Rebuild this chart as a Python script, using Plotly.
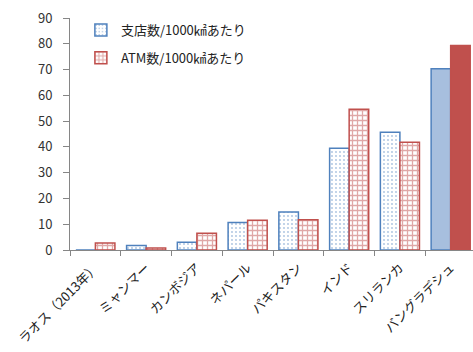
import plotly.graph_objects as go

countries = ["ラオス（2013年）", "ミャンマー", "カンボジア", "ネパール", "パキスタン",
             "インド", "スリランカ", "バングラデシュ"]
branches = [0, 1.7, 3.0, 10.7, 14.7, 39.5, 45.7, 70.3]
atms = [2.7, 0.8, 6.5, 11.5, 11.7, 54.6, 41.8, 79.3]
series_names = ["支店数/1000㎢あたり", "ATM数/1000㎢あたり"]
y_ticks = [0, 10, 20, 30, 40, 50, 60, 70, 80, 90]

BLUE = "#4F81BD"
LIGHT_BLUE = "#A7BFDE"
RED = "#C0504D"
FONT = "Noto Sans CJK JP, sans-serif"

n = len(countries)
# the last country is drawn with plain solid fills, the others with patterns
red_shape = ["+"] * (n - 1) + [""]

fig = go.Figure()
fig.add_trace(go.Bar(
    x=countries[:-1], y=branches[:-1], name=series_names[0], legend="legend",
    offsetgroup="branch",
    marker=dict(color=BLUE, line=dict(color=BLUE, width=1.5),
                pattern=dict(shape=".", size=4, solidity=0.16,
                             bgcolor="white", fgcolor=BLUE)),
))
fig.add_trace(go.Bar(
    x=countries[-1:], y=branches[-1:], name=series_names[0], showlegend=False,
    offsetgroup="branch",
    marker=dict(color=LIGHT_BLUE, line=dict(color=BLUE, width=1.5)),
))
fig.add_trace(go.Bar(
    x=countries, y=atms, name=series_names[1], legend="legend2",
    offsetgroup="atm",
    marker=dict(color=RED, line=dict(color=RED, width=1.5),
                pattern=dict(shape=red_shape, size=5, solidity=0.45,
                             bgcolor="white", fgcolor=RED)),
))

fig.update_layout(
    width=473, height=352,
    margin=dict(l=70, r=0, t=18, b=102),
    paper_bgcolor="white", plot_bgcolor="white",
    barmode="group", bargap=0.23, bargroupgap=0,
    font=dict(family=FONT, color="#333333", size=12),
    legend=dict(x=0.027, y=0.948, xanchor="left", yanchor="middle",
                bgcolor="rgba(0,0,0,0)", font=dict(size=13, color="#222")),
    legend2=dict(x=0.027, y=0.828, xanchor="left", yanchor="middle",
                 bgcolor="rgba(0,0,0,0)", font=dict(size=13, color="#222")),
    showlegend=True,
)
fig.update_xaxes(
    type="category", categoryorder="array", categoryarray=countries,
    range=[-0.5, 7.44], tickson="boundaries", automargin=False,
    showline=True, linecolor="#868686", linewidth=1,
    ticks="outside", ticklen=5, tickcolor="#868686",
    tickangle=-45, tickfont=dict(size=13, color="#222"),
    ticklabelstandoff=4,
    showgrid=False, zeroline=False,
)
fig.update_yaxes(
    range=[0, 90], tickvals=y_ticks, automargin=False,
    showline=True, linecolor="#868686", linewidth=1,
    ticks="outside", ticklen=6, tickcolor="#868686",
    ticklabelstandoff=8, tickfont=dict(size=13, color="#333"),
    showgrid=False, zeroline=False,
)

fig.write_html("out.html")
